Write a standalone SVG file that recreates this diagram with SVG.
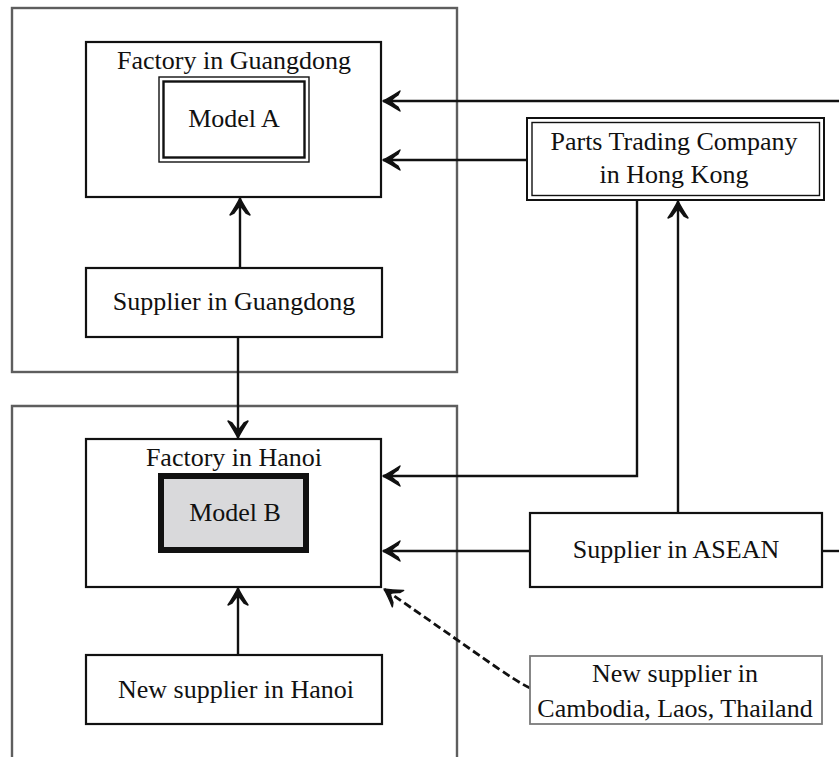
<svg xmlns="http://www.w3.org/2000/svg" width="839" height="757" viewBox="0 0 839 757">
  <style>
    .label { font-family: "Liberation Serif", "Times New Roman", serif; font-size: 26px; fill: #111; text-anchor: middle; }
    .box { fill: #fff; stroke: #111; stroke-width: 2.2; }
    .region { fill: none; stroke: #5e5e5e; stroke-width: 2.4; }
    .thin { fill: none; stroke: #111; stroke-width: 1.4; }
    .inner { fill: none; stroke: #111; stroke-width: 2.4; }
    .link { fill: none; stroke: #111; stroke-width: 2.4; }
    .dashed { fill: none; stroke: #111; stroke-width: 2.8; stroke-dasharray: 8 4; }
  </style>
  <defs>
    <marker id="arrow" viewBox="-20 -12 22 24" refX="0" refY="0" markerWidth="22" markerHeight="24" markerUnits="userSpaceOnUse" orient="auto">
      <path d="M0,0 Q-7,-3.5 -17,-10 L-15,-6 Q-9,-2 -8,0 Q-9,2 -15,6 L-17,10 Q-7,3.5 0,0 Z" fill="#111" stroke="#111" stroke-width="1.4" stroke-linejoin="round"/>
    </marker>
  </defs>

  <rect width="839" height="757" fill="#fff"/>

  <!-- regional frames -->
  <g id="region-guangdong">
    <rect class="region" x="12" y="8" width="445" height="364"/>
  </g>
  <g id="region-hanoi">
    <path class="region" d="M12,770 L12,406 L457,406 L457,770"/>
  </g>

  <!-- connectors -->
  <g id="connectors">
    <path class="link" d="M845,101 L383,101" marker-end="url(#arrow)"/>
    <path class="link" d="M527,160 L383,160" marker-end="url(#arrow)"/>
    <path class="link" d="M240,268 L240,198" marker-end="url(#arrow)"/>
    <path class="link" d="M238,337 L238,438" marker-end="url(#arrow)"/>
    <path class="link" d="M637,200 L637,476 L383,476" marker-end="url(#arrow)"/>
    <path class="link" d="M678,513 L678,201" marker-end="url(#arrow)"/>
    <path class="link" d="M530,551 L383,551" marker-end="url(#arrow)"/>
    <path class="link" d="M822,551 L845,551"/>
    <path class="link" d="M238,655 L238,588" marker-end="url(#arrow)"/>
    <path class="dashed" d="M530,688 C512,680 470,648 384,589" marker-end="url(#arrow)"/>
  </g>

  <!-- Guangdong -->
  <g id="factory-guangdong">
    <rect class="box" x="86" y="42" width="295" height="155"/>
    <text class="label" x="234" y="69">Factory in Guangdong</text>
  </g>
  <g id="model-a">
    <rect x="159" y="77" width="150" height="85" fill="#fff" stroke="#111" stroke-width="1.4"/>
    <rect class="inner" x="163.5" y="81.5" width="141" height="76"/>
    <text class="label" x="234" y="127">Model A</text>
  </g>
  <g id="supplier-guangdong">
    <rect class="box" x="86" y="268" width="296" height="69"/>
    <text class="label" x="234" y="310">Supplier in Guangdong</text>
  </g>

  <!-- Hong Kong -->
  <g id="parts-trading-hk">
    <rect x="527" y="118" width="297" height="82" fill="#fff" stroke="#111" stroke-width="2"/>
    <rect class="thin" x="532" y="122.5" width="287.5" height="73"/>
    <text class="label" x="674" y="150">Parts Trading Company</text>
    <text class="label" x="674" y="183">in Hong Kong</text>
  </g>

  <!-- Hanoi -->
  <g id="factory-hanoi">
    <rect class="box" x="86" y="439" width="295" height="148"/>
    <text class="label" x="234" y="466">Factory in Hanoi</text>
  </g>
  <g id="model-b">
    <rect x="161" y="476" width="145" height="74" fill="#d9d9db" stroke="#111" stroke-width="6"/>
    <text class="label" x="235" y="521">Model B</text>
  </g>
  <g id="new-supplier-hanoi">
    <rect class="box" x="86" y="655" width="296" height="69"/>
    <text class="label" x="236" y="698">New supplier in Hanoi</text>
  </g>

  <!-- ASEAN -->
  <g id="supplier-asean">
    <rect class="box" x="530" y="513" width="292" height="74"/>
    <text class="label" x="676" y="558">Supplier in ASEAN</text>
  </g>
  <g id="new-supplier-cambodia-laos-thailand">
    <rect x="530" y="656" width="292" height="68" fill="#fff" stroke="#7a7a7a" stroke-width="1.8"/>
    <text class="label" x="675" y="682">New supplier in</text>
    <text class="label" x="675" y="717">Cambodia, Laos, Thailand</text>
  </g>
</svg>
